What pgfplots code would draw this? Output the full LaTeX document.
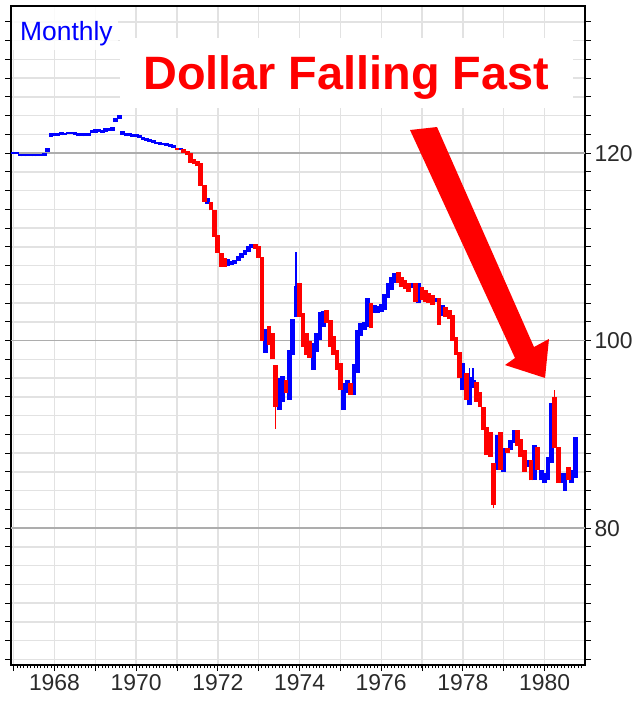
\documentclass[border=0pt]{standalone}
\usepackage{fontspec}
\setmainfont{Liberation Sans}
\usepackage{pgfplots}
\usepackage{pgfplotstable}
\pgfplotsset{compat=1.18}
\definecolor{gridlight}{HTML}{E2E2E2}
\definecolor{gridmajor}{HTML}{ADADAD}
\definecolor{ticktext}{HTML}{2A2A2A}
\definecolor{barblue}{HTML}{0000FF}
\definecolor{barred}{HTML}{FF0000}

% month index m: 0 = Jan 1967
\pgfplotstableread{
m lo hi
0 119.95 120.15
1 119.9 120.1
2 119.7 119.95
3 119.65 119.95
4 119.65 119.95
5 119.7 119.95
6 119.65 119.95
7 119.65 119.95
8 119.7 119.95
9 119.7 120.0
10 120.15 120.5
11 121.7 122.1
12 121.85 122.15
13 121.85 122.15
14 121.95 122.25
15 121.9 122.2
16 122.0 122.3
17 122.0 122.3
18 121.95 122.25
19 121.8 122.1
20 121.8 122.1
21 121.8 122.1
22 121.85 122.15
23 122.2 122.5
24 122.2 122.55
25 122.3 122.6
26 122.2 122.5
27 122.3 122.7
28 122.35 122.7
29 122.4 122.75
30 123.3 123.7
31 123.65 124.05
32 121.95 122.35
33 121.8 122.1
34 121.8 122.1
35 121.75 122.05
36 121.7 122.0
37 121.65 121.95
38 121.45 121.75
39 121.3 121.6
40 121.2 121.5
41 121.1 121.4
42 120.95 121.2
43 120.9 121.15
44 120.85 121.1
45 120.75 121.05
46 120.65 120.95
47 120.6 120.85
49 120.3 120.55
57 114.6 115.2
63 108.0 108.7
64 108.1 108.5
65 108.2 108.6
66 108.5 109.0
67 108.8 109.4
68 109.1 109.7
69 109.5 110.1
70 109.9 110.35
74 98.7 101.2
78 92.6 96.0
79 93.5 96.2
81 93.7 99.0
82 98.5 102.3
83 102.5 105.8
88 96.9 99.7
89 98.8 100.8
90 100.1 103.1
91 101.5 103.2
97 92.6 95.5
98 94.4 95.8
100 94.2 97.5
101 96.5 101.1
102 100.5 101.9
103 101.1 102.0
104 101.5 104.6
106 103.0 103.8
107 102.9 103.7
108 103.1 103.9
109 103.3 105.0
110 104.5 106.1
111 105.4 106.8
112 106.1 107.2
117 105.6 106.1
119 104.0 106.1
124 104.1 104.6
126 102.6 103.8
132 94.7 97.6
134 93.1 96.1
135 95.0 95.8
142 86.2 89.9
144 86.0 88.5
146 88.3 89.4
147 89.1 90.5
151 86.5 87.3
153 85.1 88.9
155 85.1 86.2
156 84.8 85.9
157 85.1 87.6
158 86.9 93.3
161 84.8 85.9
162 84.0 85.9
164 84.8 86.2
165 85.4 89.7
}\upbars

\pgfplotstableread{
m lo hi
48 120.3 120.6
50 120.0 120.4
51 119.8 120.2
52 119.0 120.0
53 118.8 119.4
54 118.6 119.2
55 116.5 118.9
56 114.8 116.6
58 113.9 114.8
59 111.1 113.9
60 109.4 111.3
61 107.9 109.4
62 107.9 108.8
71 109.8 110.3
72 108.8 110.1
73 100.0 108.9
75 99.5 101.6
76 98.0 100.8
77 92.9 97.4
80 94.4 95.8
84 102.5 106.2
85 99.3 103.0
86 98.5 100.8
87 98.2 100.0
92 101.9 103.3
93 99.3 102.2
94 98.5 100.5
95 96.9 99.0
96 94.7 97.6
99 94.2 95.5
105 101.3 104.0
113 106.1 107.3
114 105.7 106.8
115 105.5 106.5
116 105.2 106.1
118 104.1 106.1
120 104.3 105.7
121 104.1 105.4
122 104.0 105.1
123 103.8 104.9
125 101.7 104.5
127 102.5 103.6
128 102.3 103.3
129 100.0 102.7
130 98.5 100.4
131 96.0 98.8
133 93.7 96.5
136 93.5 95.6
137 92.9 94.5
138 90.5 92.9
139 87.8 90.8
140 87.6 90.3
141 82.5 87.0
143 86.2 90.3
145 88.0 88.5
148 88.8 90.5
149 87.6 89.5
150 86.0 88.3
152 85.1 87.3
154 86.2 88.7
159 88.5 94.0
160 84.8 88.7
163 85.1 86.5
}\downbars

\pgfplotstableread{
m lo hi
83 105.8 109.5
134 96.1 97.1
135 95.8 97.1
}\upwicks

\pgfplotstableread{
m lo hi
77 90.6 93.0
141 82.1 82.6
159 94.0 94.7
}\downwicks

\begin{document}
\begin{tikzpicture}
\useasboundingbox (-11bp,-37bp) rectangle (629bp,665bp);
\begin{axis}[
  scale only axis, width=574bp, height=659bp,
  at={(0,0)}, anchor=south west,
  xmin=1966.935, xmax=1980.99, ymin=65.4, ymax=135.7,
  axis line style={black, line width=1.4bp},
  tick align=outside,
  xtick={1967,1968,...,1980},
  xticklabels={,1968,,1970,,1972,,1974,,1976,,1978,,1980},
  minor xtick={1967,1967.0833333,...,1980.95},
  xtick pos=bottom,
  major tick length=6bp, minor tick length=3bp,
  ytick={66,68,...,134},
  yticklabels={},
  ytick pos=both,
  yticklabel pos=right,
  extra y ticks={80,100,120},
  extra y tick labels={80,100,120},
  extra y tick style={grid=major, major grid style={gridmajor, line width=1.5bp}},
  xmajorgrids, ymajorgrids,
  major grid style={gridlight, line width=1.4bp},
  tick style={black, line width=1bp},
  ticklabel style={font=\fontsize{23}{24}\selectfont, text=ticktext},
  /pgf/number format/assume math mode=true,
]
% white boxes behind the texts
\fill[white] (axis cs:1969.604,124.82) rectangle (axis cs:1980.696,132.29);
\fill[white, fill opacity=0.85] (axis cs:1966.96,131.01) rectangle (axis cs:1969.555,135.6);

\addplot[barblue, line width=4.8bp, line cap=butt, mark=none,
  quiver={u=0, v={\thisrow{hi}-\thisrow{lo}}}]
  table[x expr={1967+\thisrow{m}/12}, y=lo] {\upbars};
\addplot[barred, line width=4.8bp, line cap=butt, mark=none,
  quiver={u=0, v={\thisrow{hi}-\thisrow{lo}}}]
  table[x expr={1967+\thisrow{m}/12}, y=lo] {\downbars};
\addplot[barblue, line width=1.4bp, line cap=butt, mark=none,
  quiver={u=0, v={\thisrow{hi}-\thisrow{lo}}}]
  table[x expr={1967+\thisrow{m}/12}, y=lo] {\upwicks};
\addplot[barred, line width=1.4bp, line cap=butt, mark=none,
  quiver={u=0, v={\thisrow{hi}-\thisrow{lo}}}]
  table[x expr={1967+\thisrow{m}/12}, y=lo] {\downwicks};

% arrow annotation
\fill[barred] (axis cs:1976.705,122.47) -- (axis cs:1977.366,122.79)
  -- (axis cs:1979.741,99.32) -- (axis cs:1980.108,100.18)
  -- (axis cs:1980.011,96.02) -- (axis cs:1979.031,97.40)
  -- (axis cs:1979.276,98.15) -- cycle;

\node[anchor=base west, inner sep=0pt, text=blue,
  font=\fontsize{26.5}{26.5}\selectfont] at (axis cs:1967.155,132.07) {Monthly};
\node[anchor=base west, inner sep=0pt, text=barred,
  font=\fontsize{47}{47}\selectfont\bfseries] at (axis cs:1970.167,126.74) {Dollar Falling Fast};
\end{axis}
\end{tikzpicture}
\end{document}
